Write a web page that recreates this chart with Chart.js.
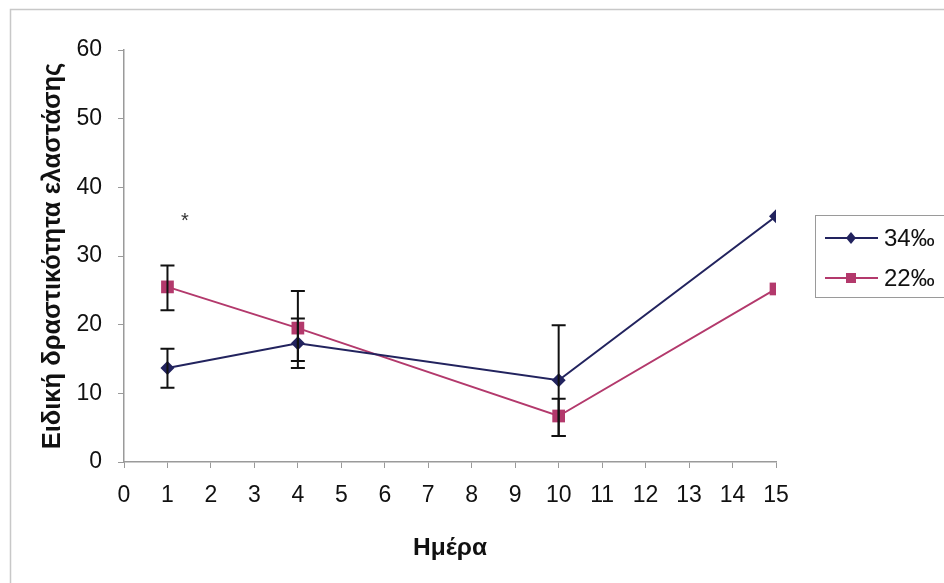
<!DOCTYPE html>
<html>
<head>
<meta charset="utf-8">
<script src="https://cdn.jsdelivr.net/npm/chart.js@4.4.0/dist/chart.umd.min.js"></script>
<style>
  html, body { margin: 0; padding: 0; background: #fff; }
  #wrap { width: 944px; height: 583px; position: relative; }
</style>
</head>
<body>
<div id="wrap"><canvas id="chart" width="944" height="583"></canvas></div>
<script>
// ── Data ─────────────────────────────────────────────────────────────────────
const DAYS = [1, 4, 10, 15];
const X_TICKS = [0, 1, 2, 3, 4, 5, 6, 7, 8, 9, 10, 11, 12, 13, 14, 15];
const Y_TICKS = [0, 10, 20, 30, 40, 50, 60];

const S34_LABEL = '34‰';
const S34_VALUES = [13.7, 17.3, 11.9, 35.8];
const S34_ERR_UP = [2.8, 3.6, 8.0, 0];
const S34_ERR_DOWN = [2.9, 3.6, 8.1, 0];

const S22_LABEL = '22‰';
const S22_VALUES = [25.5, 19.5, 6.7, 25.2];
const S22_ERR_UP = [3.1, 5.4, 2.5, 0];
const S22_ERR_DOWN = [3.4, 4.8, 2.9, 0];

// significance mark (day, value)
const STAR = { x: 1.4, y: 35.4, text: '*' };

const NAVY = '#22235e';
const PINK = '#b3396c';
const AXIS = '#9a9a9a';
const FONT = '"Liberation Sans", Arial, sans-serif';

Chart.defaults.font.family = FONT;
Chart.defaults.color = '#111';

// ── Plugins ──────────────────────────────────────────────────────────────────
const frame = {
  id: 'frame',
  beforeDraw(chart) {
    const c = chart.ctx;
    c.save();
    c.strokeStyle = '#c8c8c8';
    c.lineWidth = 1.5;
    c.beginPath();
    c.moveTo(10.5, 583);
    c.lineTo(10.5, 9.5);
    c.lineTo(944, 9.5);
    c.stroke();
    c.restore();
  },
};

const errorBars = {
  id: 'errorBars',
  afterDatasetsDraw(chart) {
    const c = chart.ctx;
    const xs = chart.scales.x, ys = chart.scales.y;
    c.save();
    c.strokeStyle = '#111';
    c.lineWidth = 2;
    chart.data.datasets.forEach(ds => {
      ds.data.forEach((p, i) => {
        const up = ds.errUp[i], dn = ds.errDown[i];
        if (!up && !dn) return;
        const x = xs.getPixelForValue(p.x);
        const y1 = ys.getPixelForValue(p.y + up);
        const y2 = ys.getPixelForValue(p.y - dn);
        c.beginPath();
        c.moveTo(x, y1); c.lineTo(x, y2);
        c.moveTo(x - 7, y1); c.lineTo(x + 7, y1);
        c.moveTo(x - 7, y2); c.lineTo(x + 7, y2);
        c.stroke();
      });
    });
    // asterisk
    c.fillStyle = '#333';
    c.font = '20px ' + FONT;
    c.textAlign = 'center';
    c.textBaseline = 'middle';
    c.fillText(STAR.text, xs.getPixelForValue(STAR.x), ys.getPixelForValue(STAR.y) + 3);
    c.restore();
  },
};

const boxLegend = {
  id: 'boxLegend',
  afterDraw(chart) {
    const c = chart.ctx;
    c.save();
    c.strokeStyle = AXIS;
    c.lineWidth = 1;
    c.strokeRect(815.5, 215.5, 140, 82);
    chart.data.datasets.forEach((ds, i) => {
      const y = 238 + i * 40;
      c.strokeStyle = ds.borderColor;
      c.lineWidth = 2;
      c.beginPath();
      c.moveTo(825, y); c.lineTo(878, y);
      c.stroke();
      c.fillStyle = ds.borderColor;
      c.beginPath();
      if (ds.pointStyle === 'rectRot') {
        c.moveTo(851, y - 6); c.lineTo(856, y); c.lineTo(851, y + 6); c.lineTo(846, y);
      } else {
        c.rect(846, y - 5, 10, 10);
      }
      c.fill();
      c.fillStyle = '#111';
      c.font = '24px ' + FONT;
      c.textAlign = 'left';
      c.textBaseline = 'middle';
      c.fillText(ds.label, 884, y + 1);
    });
    c.restore();
  },
};

// ── Chart ────────────────────────────────────────────────────────────────────
const toPts = vals => vals.map((v, i) => ({ x: DAYS[i], y: v }));

new Chart(document.getElementById('chart'), {
  type: 'line',
  data: {
    datasets: [
      {
        label: S34_LABEL,
        data: toPts(S34_VALUES),
        errUp: S34_ERR_UP,
        errDown: S34_ERR_DOWN,
        borderColor: NAVY,
        backgroundColor: NAVY,
        borderWidth: 2,
        pointStyle: 'rectRot',
        pointRadius: 7,
        pointBorderWidth: 0,
        tension: 0,
      },
      {
        label: S22_LABEL,
        data: toPts(S22_VALUES),
        errUp: S22_ERR_UP,
        errDown: S22_ERR_DOWN,
        borderColor: PINK,
        backgroundColor: PINK,
        borderWidth: 2,
        pointStyle: 'rect',
        pointRadius: 9,
        pointBorderWidth: 0,
        tension: 0,
      },
    ],
  },
  options: {
    responsive: false,
    animation: false,
    layout: { padding: { left: 10, top: 50, right: 168, bottom: 10 } },
    plugins: { legend: { display: false }, tooltip: { enabled: false } },
    scales: {
      x: {
        type: 'linear',
        min: 0,
        max: 15,
        afterBuildTicks: s => { s.ticks = X_TICKS.map(v => ({ value: v })); },
        afterFit: s => { s.height = 111; },
        grid: { drawOnChartArea: false, drawTicks: true, tickLength: 6, color: AXIS },
        border: { display: true, color: AXIS, width: 1.5 },
        ticks: { font: { size: 23 }, padding: 14, color: '#111', maxRotation: 0 },
        title: {
          display: true,
          text: 'Ημέρα',
          font: { size: 24.5, weight: 'bold' },
          color: '#111',
          padding: { top: 0, bottom: 10 },
        },
      },
      y: {
        min: 0,
        max: 60,
        afterBuildTicks: s => { s.ticks = Y_TICKS.map(v => ({ value: v })); },
        afterFit: s => { s.width = 114; },
        grid: { drawOnChartArea: false, drawTicks: true, tickLength: 6, color: AXIS },
        border: { display: true, color: AXIS, width: 1.5 },
        ticks: { font: { size: 23 }, padding: 16, color: '#111' },
        title: {
          display: true,
          text: 'Ειδική δραστικότητα ελαστάσης',
          font: { size: 25.5, weight: 'bold' },
          color: '#111',
          padding: { top: 28, bottom: 0 },
        },
      },
    },
  },
  plugins: [frame, errorBars, boxLegend],
});
</script>
</body>
</html>
